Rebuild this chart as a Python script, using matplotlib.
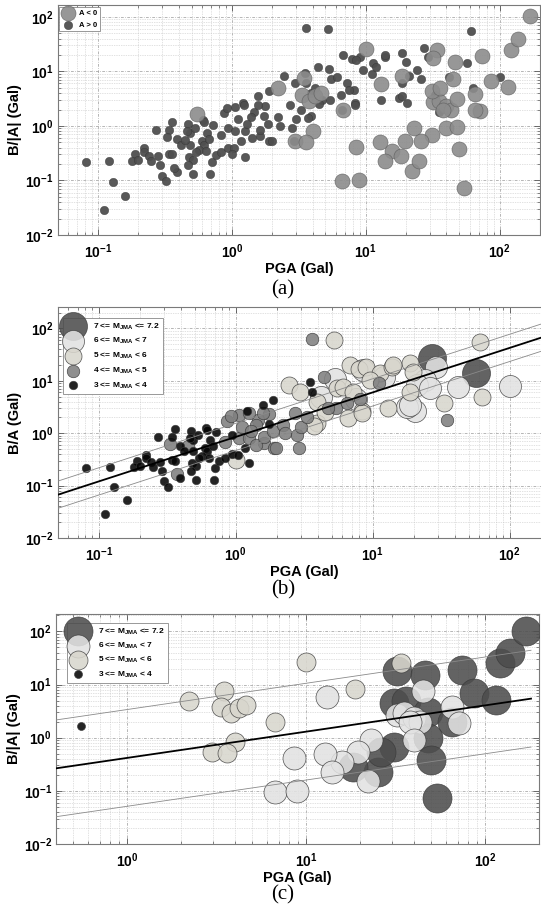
import numpy as np
import matplotlib
matplotlib.use("Agg")
import matplotlib.pyplot as plt
from matplotlib.ticker import LogLocator, FuncFormatter, NullFormatter

# ---- panel (b): B/A for A > 0, grouped by magnitude ----
b_m34_x = [0.081, 0.12, 0.13, 0.16, 0.111, 0.19, 0.18, 0.22, 0.22, 0.20, 0.24, 0.25, 0.28, 0.29,
           0.30, 0.32, 0.27, 0.36, 0.34, 0.34, 0.36, 0.39, 0.42, 0.39, 0.47, 0.49, 0.53, 0.46,
           0.49, 0.48, 0.51, 0.47, 0.51, 0.61, 0.62, 0.65, 0.60, 0.62, 0.57, 0.64, 0.54, 0.72,
           0.68, 0.71, 0.69, 0.76, 0.83, 0.94, 1.03, 1.16, 1.26, 0.94, 1.2, 1.57, 1.75, 1.88,
           3.5, 3.6]
b_m34_y = [0.215, 0.23, 0.093, 0.052, 0.029, 0.30, 0.23, 0.39, 0.33, 0.24, 0.28, 0.23, 0.28, 0.19,
           0.12, 0.096, 0.86, 1.19, 0.84, 0.31, 0.30, 0.58, 0.45, 0.14, 1.08, 0.75, 0.93, 0.80,
           0.45, 0.27, 0.24, 0.19, 0.13, 1.28, 1.16, 0.75, 0.52, 0.45, 0.36, 0.34, 0.33, 1.04,
           0.58, 0.22, 0.13, 0.29, 0.33, 0.40, 0.39, 0.52, 0.27, 0.93, 2.6, 3.5, 1.5, 4.3,
           9.4, 6.0]
b_m45_x = [0.33, 0.45, 0.37, 0.87, 1.05, 1.45, 1.76, 1.62, 1.06, 0.83, 1.26, 1.41, 1.9, 0.92,
           1.24, 1.57, 1.11, 1.40, 1.61, 1.86, 1.98, 2.8, 2.9, 2.2, 2.7, 3.0, 4.4, 5.4, 6.5,
           8.1, 11.2, 35, 3.6, 4.7, 2.3, 3.3, 1.3]
b_m45_y = [0.62, 0.56, 0.17, 1.72, 2.2, 1.8, 2.3, 0.65, 0.80, 0.69, 0.80, 0.60, 0.52, 2.1,
           2.4, 2.4, 1.34, 1.44, 0.86, 1.08, 0.52, 0.93, 0.52, 1.44, 2.4, 1.34, 12, 3.0, 3.7,
           4.6, 9.0, 1.8, 63, 3.0, 1.0, 2.0, 1.1]
b_m56_x = [5.2, 61, 2.45, 2.95, 6.8, 7.9, 9.0, 11.3, 13.8, 18.7, 19.8, 5.5, 6.1, 7.2, 18.7,
           13, 8.3, 33, 63, 3.9, 3.7, 9.6, 3.9, 1.0, 6.6, 8.3, 14, 4.5]
b_m56_y = [60, 56, 8.3, 6.0, 20, 17, 18.6, 14, 18.6, 21.5, 15, 7.2, 7.8, 6.2, 6.2,
           3.0, 2.6, 3.7, 5.0, 1.55, 1.4, 10.4, 4.0, 0.31, 1.93, 2.4, 20, 2.5]
b_m67_x = [29, 42, 100, 20.4, 17.7, 24, 8.5, 4.2, 5.3, 21, 18.7, 26, 12, 7.5]
b_m67_y = [18.6, 7.8, 8.0, 2.6, 3.2, 10.4, 16, 5.0, 11, 8.3, 3.5, 7.2, 12, 4.5]
b_m7_x = [27, 57]
b_m7_y = [27, 14]

# ---- panel (c): B/|A| for A < 0, grouped by magnitude ----
c_m34_x = [0.55]
c_m34_y = [1.65]
c_m56_x = [2.2, 3.47, 3.32, 3.78, 4.2, 4.6, 6.7, 4.0, 2.96, 3.6, 10, 34, 18.7]
c_m56_y = [5.0, 7.5, 3.7, 2.9, 3.6, 4.1, 1.95, 0.82, 0.54, 0.51, 26, 25, 8.3]
c_m67_x = [8.5, 6.65, 8.9, 13.1, 45, 65, 71, 32, 35, 40, 43, 38, 40, 23, 19.5, 15.8, 12.7,
           13.9, 22]
c_m67_y = [0.41, 0.096, 0.1, 5.9, 7.4, 3.8, 1.86, 2.7, 2.9, 2.3, 2.0, 2.0, 0.91, 0.91, 0.54,
           0.35, 0.5, 0.23, 0.15]
c_m7_x = [32, 46, 74, 121, 137, 169, 86, 115, 31, 36, 48, 65, 48, 31, 50, 54, 25, 18.3, 26]
c_m7_y = [17.6, 14.8, 19, 25, 39, 102, 6.8, 5.2, 4.4, 4.9, 3.1, 2.0, 0.97, 0.68, 0.38, 0.072,
          0.23, 0.28, 0.54]

# fitted lines: log10(y) = a + b*log10(x), band = +/- d (decades)
b_fit = dict(a=-0.07, b=0.85, d=0.26, x0=0.05, x1=200)
c_fit = dict(a=-0.38, b=0.494, d=0.91, x0=0.4, x1=180)

mag_labels = [r'7 <= $\mathbf{M_{JMA}}$ <= 7.2', r'6 <= $\mathbf{M_{JMA}}$ < 7',
              r'5 <= $\mathbf{M_{JMA}}$ < 6', r'4 <= $\mathbf{M_{JMA}}$ < 5',
              r'3 <= $\mathbf{M_{JMA}}$ < 4']
mag_colors = ['#4d4d4d', '#e2e2e2', '#d8d6cd', '#808080', '#050505']

plt.rcParams['font.family'] = ['Liberation Sans', 'DejaVu Sans']
plt.rcParams['mathtext.fontset'] = 'custom'
plt.rcParams['mathtext.rm'] = 'Liberation Sans'
plt.rcParams['mathtext.bf'] = 'Liberation Sans:bold'

W, H = 541, 916


def px_axes(fig, left, right, top, bottom):
    return fig.add_axes([left / W, 1 - bottom / H, (right - left) / W, (bottom - top) / H])


def style_axes(ax, xlim, ylim, ylabel):
    ax.set_xscale('log')
    ax.set_yscale('log')
    ax.set_xlim(*xlim)
    ax.set_ylim(*ylim)
    for axis in (ax.xaxis, ax.yaxis):
        axis.set_major_locator(LogLocator(base=10, numticks=20))
        axis.set_minor_locator(LogLocator(base=10, subs=np.arange(2, 10), numticks=50))
        axis.set_major_formatter(FuncFormatter(
            lambda v, p: r'$\mathbf{10^{%d}}$' % int(round(np.log10(v)))))
        axis.set_minor_formatter(NullFormatter())
    ax.grid(True, which='major', ls=(0, (4, 2, 1, 2)), color='#9a9a9a', lw=0.5)
    ax.grid(True, which='minor', ls=(0, (1, 1.5)), color='#c4c4c4', lw=0.5)
    ax.set_axisbelow(True)
    ax.tick_params(which='both', direction='in', top=True, right=True, colors='#555555',
                   labelcolor='black', labelsize=10)
    ax.tick_params(which='major', length=4, width=0.6)
    ax.tick_params(which='minor', length=2, width=0.5)
    ax.tick_params(axis='x', pad=5)
    ax.tick_params(axis='y', pad=3)
    for s in ax.spines.values():
        s.set_color('#7a7a7a')
        s.set_linewidth(0.8)
    ax.set_xlabel('PGA (Gal)', fontsize=10.5, fontweight='bold', labelpad=1)
    ax.set_ylabel(ylabel, fontsize=10.5, fontweight='bold', labelpad=2)


def draw_fit(ax, fit):
    x = np.array([fit['x0'], fit['x1']])
    ly = fit['a'] + fit['b'] * np.log10(x)
    ax.plot(x, 10 ** ly, color='black', lw=1.3, zorder=5)
    ax.plot(x, 10 ** (ly + fit['d']), color='#8a8a8a', lw=0.6, zorder=5)
    ax.plot(x, 10 ** (ly - fit['d']), color='#8a8a8a', lw=0.6, zorder=5)


def main():
    fig = plt.figure(figsize=(W / 100, H / 100), dpi=100)
    edge = dict(edgecolors='#3a3a3a', linewidths=0.5)

    # (a)
    ax = px_axes(fig, 57.7, 540, 5, 235)
    style_axes(ax, (0.05, 200), (0.01, 165), 'B/|A| (Gal)')
    pos_x = b_m34_x + b_m45_x + b_m56_x + b_m67_x + b_m7_x
    pos_y = b_m34_y + b_m45_y + b_m56_y + b_m67_y + b_m7_y
    neg_x = c_m34_x + c_m56_x + c_m67_x + c_m7_x
    neg_y = c_m34_y + c_m56_y + c_m67_y + c_m7_y
    ha = ax.scatter(pos_x, pos_y, s=37, c='#4f4f4f', edgecolors='#333333', linewidths=0.3,
                    alpha=0.95, zorder=3)
    hb = ax.scatter(neg_x, neg_y, s=117, c='#8c8c8c', edgecolors='#5a5a5a', linewidths=0.4,
                    alpha=0.9, zorder=4)
    leg = ax.legend([hb, ha], ['A < 0', 'A > 0'], loc='upper left', bbox_to_anchor=(0.003, 0.991),
                    borderaxespad=0, fontsize=5.5, prop=dict(weight='bold', size=5.5),
                    frameon=True, fancybox=False, edgecolor='#888888', framealpha=1,
                    handlelength=1.6, handletextpad=0.6, borderpad=0.35, labelspacing=0.55)
    leg.get_frame().set_linewidth(0.6)

    # (b)
    ax = px_axes(fig, 57.5, 551, 307, 538)
    style_axes(ax, (0.05, 200), (0.01, 257), 'B/A (Gal)')
    groups = [(b_m7_x, b_m7_y, 406), (b_m67_x, b_m67_y, 251), (b_m56_x, b_m56_y, 150),
              (b_m45_x, b_m45_y, 81), (b_m34_x, b_m34_y, 37)]
    handles = []
    for (gx, gy, s), col in zip(groups, mag_colors):
        handles.append(ax.scatter(gx, gy, s=s, c=col, alpha=0.88, zorder=3, **edge))
    draw_fit(ax, b_fit)
    leg = ax.legend(handles, mag_labels, loc='upper left', bbox_to_anchor=(0.0105, 0.952),
                    borderaxespad=0, prop=dict(weight='bold', size=6), frameon=True,
                    fancybox=False, edgecolor='#888888', framealpha=1, handlelength=1.6,
                    handletextpad=1.6, borderpad=0.4, labelspacing=0.55)
    leg.get_frame().set_linewidth(0.6)
    leg.set_zorder(10)

    # (c)
    ax = px_axes(fig, 56.1, 539.2, 614, 844)
    style_axes(ax, (0.4, 200), (0.01, 212), 'B/|A| (Gal)')
    groups = [(c_m7_x, c_m7_y, 436, mag_colors[0]), (c_m67_x, c_m67_y, 274, mag_colors[1]),
              (c_m56_x, c_m56_y, 187, mag_colors[2]), (c_m34_x, c_m34_y, 33, mag_colors[4])]
    handles = []
    for gx, gy, s, col in groups:
        handles.append(ax.scatter(gx, gy, s=s, c=col, alpha=0.88, zorder=3, **edge))
    draw_fit(ax, c_fit)
    leg = ax.legend(handles, [mag_labels[0], mag_labels[1], mag_labels[2], mag_labels[4]],
                    loc='upper left', bbox_to_anchor=(0.022, 0.96), borderaxespad=0,
                    prop=dict(weight='bold', size=6), frameon=True, fancybox=False,
                    edgecolor='#888888', framealpha=1, handlelength=1.9, handletextpad=1.5,
                    borderpad=0.4, labelspacing=0.5)
    leg.get_frame().set_linewidth(0.6)
    leg.set_zorder(10)

    for lab, ypx in (('(a)', 290), ('(b)', 590), ('(c)', 895)):
        fig.text(283 / W, 1 - ypx / H, lab, ha='center', va='center', fontsize=15,
                 family=['Liberation Serif', 'DejaVu Serif'])

    fig.savefig('out.png', dpi=100)


if __name__ == '__main__':
    main()
